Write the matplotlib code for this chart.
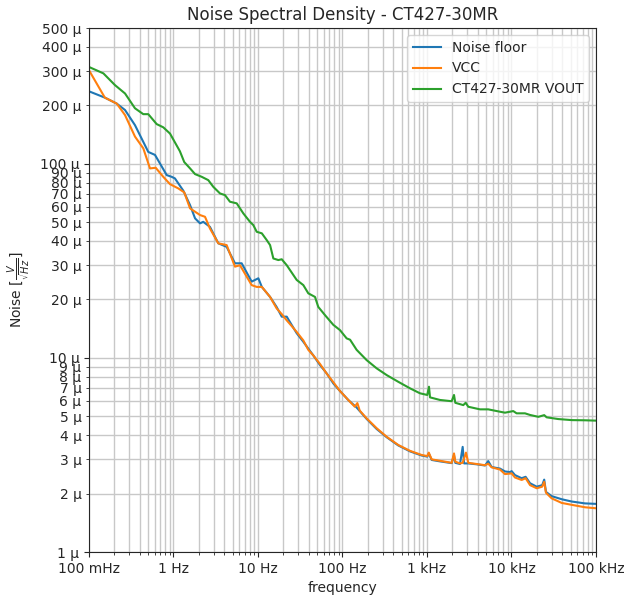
import numpy as np
import matplotlib
matplotlib.use('Agg')
import matplotlib.pyplot as plt
from matplotlib.ticker import EngFormatter

# values, noise in uV/sqrt(Hz)
floor_f = [0.1, 0.154, 0.213, 0.267, 0.35, 0.503, 0.604, 0.831, 0.952, 1.04, 1.31, 1.57, 1.8,
           2.06, 2.25, 2.7, 3.39, 4.26, 5.34, 6.41, 8.42, 10.1, 11.1, 13.9, 16.6, 19.1, 21.9,
           25.0, 28.7, 34.4, 45.1, 54.2, 65.0, 77.8, 93.4, 117, 147, 193, 254, 334, 457, 629,
           866, 1008, 1050, 1137, 1425, 1960, 2089, 2163, 2460, 2645, 2750, 3083, 3870, 4860,
           5310, 5830, 7310, 8380, 9600, 10050, 11000, 13200, 14700, 16600, 19900, 23100,
           24400, 25600, 29900, 39300, 51600, 74100, 100000]
floor_v = [236, 219, 204, 189, 158, 115, 111, 87.4, 85.6, 84.0, 72.5, 61.2, 52.3,
           49.3, 50.2, 47.3, 38.9, 37.3, 30.7, 30.7, 24.7, 25.7, 23.2, 20.6, 18.3, 16.3, 16.3,
           14.8, 13.4, 12.1, 10.3, 9.18, 8.32, 7.39, 6.75, 6.07, 5.55, 4.85, 4.30, 3.90, 3.54, 3.30,
           3.14, 3.10, 3.22, 2.98, 2.93, 2.87, 3.15, 2.88, 2.84, 3.48, 2.86, 2.86, 2.83, 2.79,
           2.94, 2.74, 2.69, 2.60, 2.58, 2.61, 2.49, 2.40, 2.44, 2.26, 2.17, 2.21,
           2.36, 2.04, 1.94, 1.87, 1.82, 1.78, 1.77]

vcc_f = [0.1, 0.154, 0.213, 0.267, 0.35, 0.439, 0.527, 0.616, 0.757, 0.909, 1.14, 1.34, 1.57,
         2.06, 2.36, 2.7, 3.39, 4.26, 5.34, 6.12, 8.42, 9.66, 11.1, 13.9, 16.6, 19.1, 21.9,
         25.0, 28.7, 34.4, 39.4, 45.1, 54.2, 65.0, 77.8, 93.4, 117, 140, 150, 160, 193, 254,
         334, 457, 629, 866, 1008, 1050, 1137, 1425, 1960, 2089, 2163, 2460, 2645, 2895, 3083,
         3870, 4860, 5310, 5830, 7310, 8380, 10050, 11000, 13200, 14700, 16600, 19900, 23100,
         24400, 25600, 29900, 39300, 51600, 74100, 100000]
vcc_v = [303, 219, 204, 178, 138, 120, 94.6, 95.3, 85.6, 78.5, 74.6, 71.2, 58.9,
         54.4, 53.3, 46.4, 38.9, 38.1, 29.5, 30.0, 23.7, 23.2, 23.2, 20.6, 18.0, 16.8, 15.6,
         14.6, 13.6, 12.3, 11.0, 10.3, 9.3, 8.3, 7.5, 6.75, 6.07, 5.6, 5.85, 5.35, 4.88, 4.34,
         3.92, 3.56, 3.32, 3.16, 3.12, 3.25, 3.0, 2.95, 2.88, 3.22, 2.92, 2.86, 2.88, 3.25, 2.88,
         2.84, 2.80, 2.85, 2.73, 2.66, 2.52, 2.54, 2.42, 2.35, 2.40, 2.21, 2.13, 2.17,
         2.30, 2.02, 1.89, 1.79, 1.75, 1.70, 1.68]

vout_f = [0.1, 0.148, 0.203, 0.267, 0.35, 0.439, 0.503, 0.632, 0.757, 0.909, 1.19, 1.34, 1.57,
          1.8, 2.16, 2.58, 2.96, 3.55, 4.07, 4.66, 5.6, 6.7, 8.04, 8.8, 9.66, 11.1, 12.7, 13.9,
          15.2, 17.4, 19.1, 21.9, 28.7, 34.4, 39.4, 47.3, 51.7, 62.1, 77.8, 93.4, 112, 123, 147,
          193, 254, 334, 457, 629, 826, 1008, 1056, 1086, 1425, 1960, 2089, 2163, 2690, 2870,
          3083, 4240, 5310, 7310, 8380, 10500, 11500, 14450, 16600, 20800, 24400, 26100, 35800,
          51600, 74100, 100000]
vout_v = [315, 292, 254, 230, 193, 180, 180, 160, 154, 143, 116, 102, 94.6,
          88.4, 85.6, 82.3, 76.0, 70.3, 68.9, 63.7, 62.5, 55.5, 50.2, 48.3, 44.6, 43.8, 40.4, 38.1,
          32.5, 31.9, 32.2, 30.0, 25.2, 23.7, 21.5, 20.6, 18.3, 16.6, 14.8, 13.9, 12.6, 12.4, 11.0,
          9.74, 8.83, 8.15, 7.53, 6.97, 6.57, 6.44, 7.1, 6.26, 6.07, 5.98, 6.44, 5.87, 5.71, 5.87,
          5.60, 5.43, 5.43, 5.28, 5.22, 5.32, 5.18, 5.18, 5.08, 4.97, 5.07, 4.94, 4.84,
          4.78, 4.77, 4.75]

fig = plt.figure(figsize=(6.33, 5.96), dpi=100)
ax = fig.add_axes([0.1406, 0.0738, 0.8009, 0.8792])

ax.plot(floor_f, np.array(floor_v) * 1e-6, label='Noise floor')
ax.plot(vcc_f, np.array(vcc_v) * 1e-6, label='VCC')
ax.plot(vout_f, np.array(vout_v) * 1e-6, label='CT427-30MR VOUT')

ax.set_xscale('log')
ax.set_yscale('log')
ax.set_xlim(0.1, 1e5)
ax.set_ylim(1e-6, 5e-4)
ax.xaxis.set_major_formatter(EngFormatter(unit='Hz'))
ax.yaxis.set_major_formatter(EngFormatter(unit=''))
ax.yaxis.set_minor_formatter(EngFormatter(unit=''))
ax.grid(True, which='both', color='#c8c8c8', linewidth=1.0)
for s in ax.spines.values():
    s.set_color('#262626')
ax.tick_params(which='both', colors='#262626')

ax.set_title('Noise Spectral Density - CT427-30MR', color='#262626')
ax.set_xlabel('frequency', color='#262626')
ax.set_ylabel(r'Noise [$\frac{V}{\sqrt{Hz}}$]', color='#262626')
leg = ax.legend(loc='upper right')
for t in leg.get_texts():
    t.set_color('#262626')

plt.savefig('out.png')
